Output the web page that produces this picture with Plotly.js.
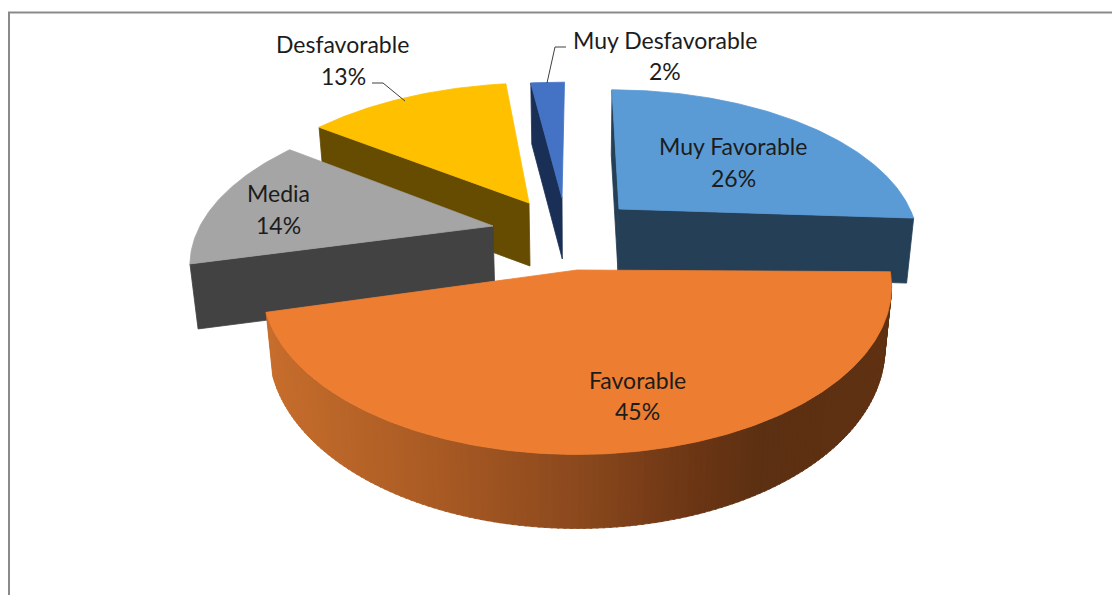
<!DOCTYPE html>
<html><head><meta charset="utf-8">
<script src="https://cdn.plot.ly/plotly-3.0.1.min.js"></script>
<style>html,body{margin:0;padding:0;background:#fff;overflow:hidden}</style>
</head><body><div id="chart" style="width:1112px;height:595px"></div>
<script>
// Data
const categories = ["Muy Favorable","Favorable","Media","Desfavorable","Muy Desfavorable"];
const percents = [26,45,14,13,2];
const topColors = ["#5b9bd5","#ed7d31","#a5a5a5","#ffc000","#4472c4"];
const sideColors = ["#243f56","#c66d2c","#424242","#664c00","#1a2f55"];

// Projection of each exploded slice: apex, radii, perspective, thickness, small angle tweak
const VX = 577, SHRINK = 0.979;
const geom = [
 {ax:619,ay:209,A:291,B:143,p:.2,d0:65,d1:0,da0:0,da1:0},
 {ax:577,ay:270,A:313,B:166,p:.1,d0:59.4,d1:14.6,da0:-3,da1:0},
 {ax:493,ay:226,A:293,B:145,p:.2,d0:65,d1:0,da0:0,da1:0},
 {ax:529,ay:203,A:297,B:144,p:.2,d0:63,d1:0,da0:0,da1:0},
 {ax:562,ay:198,A:322,B:139,p:.2,d0:61,d1:0,da0:0,da1:0}
];
const sideStops = [[268,[198,109,44]],[430,[170,91,36]],[580,[138,72,29]],[700,[106,53,20]],[760,[92,48,18]],[890,[95,49,18]]];

const total = percents.reduce((a,b)=>a+b,0);
const R = Math.PI/180;
function proj(g,deg){
  const u=Math.sin(deg*R), v=-Math.cos(deg*R), s=1/(1-g.p*v);
  return {x:g.ax+g.A*u*s+(g.ax-VX)*(s-1), y:g.ay+g.B*v*s, v};
}
function drop(g,P){ return {x:VX+(P.x-VX)*SHRINK, y:P.y+g.d0+g.d1*P.v}; }
function apexDrop(g){ return {x:VX+(g.ax-VX)*SHRINK, y:g.ay+g.d0}; }
const traces=[];
function poly(pts,color){
  traces.push({type:'scatter',mode:'lines',x:pts.map(p=>p.x),y:pts.map(p=>p.y),fill:'toself',
    fillcolor:color,line:{color:color,width:0.8},hoverinfo:'skip',showlegend:false});
}
let acc=0; const angles=percents.map((p,i)=>{const a=acc*360/total+geom[i].da0; acc+=p; return [a,acc*360/total+geom[i].da1];});
function topFace(i){
  const g=geom[i],[a0,a1]=angles[i],pts=[{x:g.ax,y:g.ay}];
  const n=Math.max(8,Math.round((a1-a0)*1.5));
  for(let k=0;k<=n;k++)pts.push(proj(g,a0+(a1-a0)*k/n));
  pts.push({x:g.ax,y:g.ay}); poly(pts,topColors[i]);
}
function radial(i,deg){
  const g=geom[i],P=proj(g,deg);
  poly([{x:g.ax,y:g.ay},P,drop(g,P),apexDrop(g),{x:g.ax,y:g.ay}],sideColors[i]);
}
function sideColor(x){
  if(x<=sideStops[0][0])return sideStops[0][1];
  for(let k=1;k<sideStops.length;k++){
    if(x<=sideStops[k][0]){const [x0,c0]=sideStops[k-1],[x1,c1]=sideStops[k],t=(x-x0)/(x1-x0);
      return c0.map((c,j)=>c+(c1[j]-c)*t);}
  }
  return sideStops[sideStops.length-1][1];
}
function rgb(c){return 'rgb('+c.map(Math.round).join(',')+')';}
function outer(i){
  const g=geom[i],[a0,a1]=angles[i],n=150;
  for(let k=0;k<n;k++){
    const d0=a0+(a1-a0)*k/n,d1=a0+(a1-a0)*(k+1.3)/n;
    const P=proj(g,d0),Q=proj(g,Math.min(d1,a1));
    poly([P,Q,drop(g,Q),drop(g,P),P],rgb(sideColor((P.x+Q.x)/2)));
  }
}
// back to front
radial(4,angles[4][0]); topFace(4);
radial(3,angles[3][0]); topFace(3);
radial(0,angles[0][0]); radial(0,angles[0][1]); topFace(0);
radial(2,angles[2][0]); topFace(2);
outer(1); topFace(1);

// leader lines
const leaders=[{x:[372,383,405],y:[83,83,101]},{x:[566,555,547],y:[47,47,83]}];
leaders.forEach(l=>traces.push({type:'scatter',mode:'lines',x:l.x,y:l.y,line:{color:'#404040',width:1},hoverinfo:'skip',showlegend:false}));
// frame
traces.push({type:'scatter',mode:'lines',x:[9,9,1112],y:[595,12.5,12.5],line:{color:'#8a8a8a',width:2},hoverinfo:'skip',showlegend:false});

const labelPos=[[733,146,733,178],[637,380,637,411],[278,193,278,225],[342,44,343,76],[665,40,665,71]];
const annotations=[];
categories.forEach((c,i)=>{
  const L=labelPos[i];
  [[c,L[0],L[1]],[percents[i]+'%',L[2],L[3]]].forEach(a=>annotations.push({text:a[0],x:a[1],y:a[2],xref:'x',yref:'y',showarrow:false,
     xanchor:'center',yanchor:'middle',font:{family:'Lato, Carlito, sans-serif',size:23,color:'#1c1c1c'}}));
});
Plotly.newPlot('chart',traces,{
  width:1112,height:595,margin:{l:0,r:0,t:0,b:0},paper_bgcolor:'#fff',plot_bgcolor:'#fff',showlegend:false,
  xaxis:{range:[0,1112],visible:false,fixedrange:true},
  yaxis:{range:[595,0],visible:false,fixedrange:true},
  annotations
},{displayModeBar:false,staticPlot:true});
</script></body></html>
